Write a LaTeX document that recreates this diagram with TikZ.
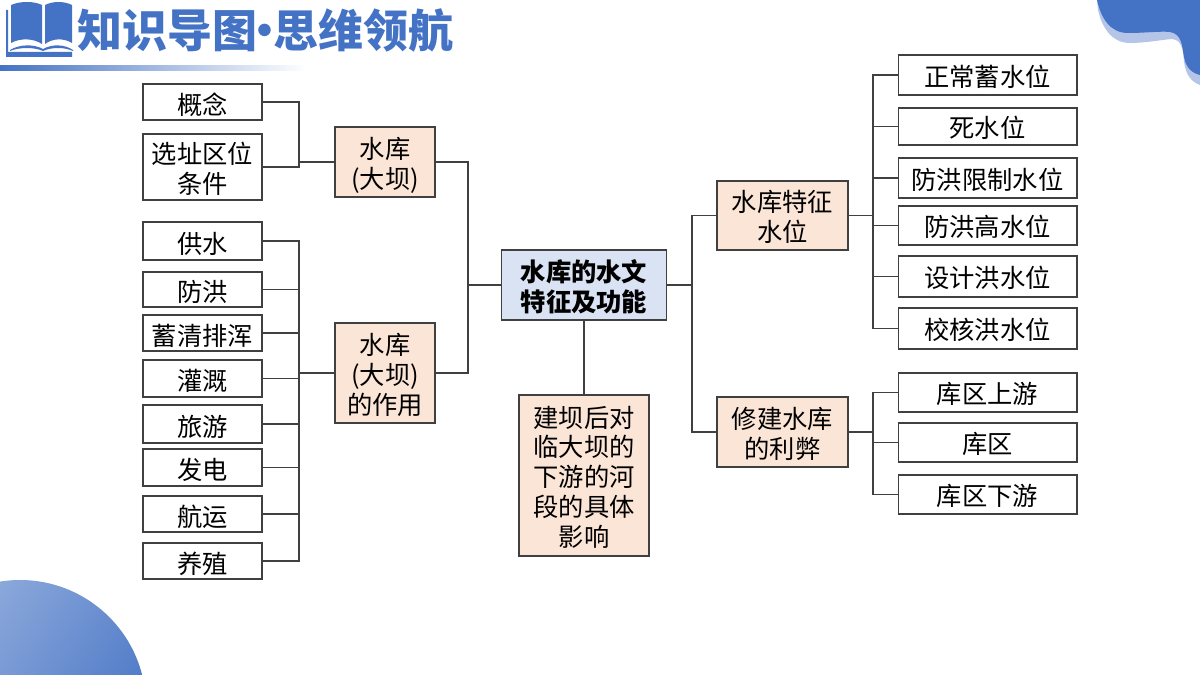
\documentclass[tikz,border=0pt]{standalone}
\usepackage{fontspec}
\usepackage{xcolor}
\setmainfont{Noto Sans CJK SC}
\usetikzlibrary{positioning}
\definecolor{mapblue}{RGB}{68,114,196}
\definecolor{maplight}{RGB}{180,197,231}
\definecolor{mappeach}{RGB}{251,229,214}
\definecolor{mapsky}{RGB}{218,227,243}
\definecolor{mapline}{RGB}{64,64,64}
\newcommand{\toppad}[1]{\rule{0pt}{#1}}
\tikzstyle{boxbase} = [rectangle, draw=mapline, fill=white, line width=0.6pt, inner sep=0pt, text=black, font=\fontsize{14.4pt}{17pt}\selectfont, align=center]
\tikzstyle{leaf} = [boxbase, minimum width=2.38cm, execute at begin node={\toppad{15pt}}]
\tikzstyle{rightleaf} = [boxbase, minimum width=3.58cm, execute at begin node={\toppad{13.8pt}}]
\tikzstyle{branch} = [boxbase, fill=mappeach]
\tikzstyle{root} = [boxbase, fill=mapsky, minimum width=3.3cm, minimum height=1.4cm, font=\fontsize{14.4pt}{17pt}\selectfont\bfseries]
\tikzstyle{conn} = [draw=mapline, line width=0.6pt]
\begin{document}
\begin{tikzpicture}[x=0.02cm,y=-0.02cm]
\useasboundingbox (0,0) rectangle (1200,675);

% Corner shapes
\begin{scope}
\clip (0,0) rectangle (1200,675);
\shade[left color=mapblue!55, right color=mapblue, shading angle=55] (20,706) circle (126);
\fill[maplight] (1097,0) -- (1098,10) .. controls (1102,28) and (1112,43) .. (1130,43)
  .. controls (1145,43) and (1160,40) .. (1172,39) .. controls (1182,40) and (1183,50) .. (1184,62)
  .. controls (1186,76) and (1192,82) .. (1200,85) -- (1200,0) -- cycle;
\fill[mapblue] (1097,0) .. controls (1101,18) and (1110,33) .. (1128,33)
  .. controls (1145,33) and (1160,31) .. (1170,32) .. controls (1182,34) and (1182,46) .. (1184,57)
  .. controls (1186,68) and (1192,73) .. (1200,75) -- (1200,0) -- cycle;
\end{scope}

% Book and title
\fill[mapblue] (11,5) .. controls (20,1) and (34,1) .. (42,5) -- (42,44) .. controls (33,38) and (20,38) .. (11,43) -- cycle;
\fill[mapblue] (45,5) .. controls (53,1) and (64,1) .. (72,5) -- (72,43) .. controls (64,38) and (53,38) .. (45,44) -- cycle;
\fill[mapblue] (10,50) .. controls (20,44) and (34,44) .. (43,49) .. controls (52,44) and (64,44) .. (73,50) -- (73,51) .. controls (64,47) and (52,47) .. (43,51) .. controls (34,47) and (20,47) .. (10,51) -- cycle;
\fill[mapblue] (6,10) -- (8,10) -- (8,52) -- (72,52) -- (72,57) -- (6,57) -- cycle;
\node (title) [anchor=west, text=mapblue, inner sep=0pt, font=\fontsize{25.6pt}{30pt}\selectfont\bfseries] at (77,30) {知识导图\kern-8.2pt·\kern-8.2pt思维领航};
\shade[left color=mapblue, right color=white] (0,66) rectangle (307,71);

% Root and branches
\node (root) [root] at (584,285) {\toppad{14pt}水库的水文\\特征及功能};
\node (dam) [branch, minimum width=2cm, minimum height=1.4cm] at (385,162) {\toppad{16.2pt}水库\\(大坝)};
\node (damuse) [branch, minimum width=2cm, minimum height=2cm] at (385,373) {\toppad{14pt}水库\\(大坝)\\的作用};
\node (effect) [branch, minimum width=2.6cm, minimum height=3.22cm] at (584,475.5) {\toppad{14pt}建坝后对\\临大坝的\\下游的河\\段的具体\\影响};
\node (level) [branch, minimum width=2.62cm, minimum height=1.38cm] at (782.5,215.5) {\toppad{14pt}水库特征\\水位};
\node (probs) [branch, minimum width=2.62cm, minimum height=1.4cm] at (782.5,432) {\toppad{14.6pt}修建水库\\的利弊};

% Left leaves
\node (concept) [leaf, minimum height=0.72cm] at (202.5,102) {概念};
\node (site) [leaf, minimum height=1.32cm] at (202.5,167) {\toppad{14.6pt}选址区位\\条件};
\node (supply) [leaf, minimum height=0.76cm] at (202.5,241) {供水};
\node (flood) [leaf, minimum height=0.7cm] at (202.5,289.5) {防洪};
\node (sluice) [leaf, minimum height=0.72cm] at (202.5,333) {蓄清排浑};
\node (irrig) [leaf, minimum height=0.74cm] at (202.5,378.5) {灌溉};
\node (tour) [leaf, minimum height=0.76cm] at (202.5,424) {旅游};
\node (power) [leaf, minimum height=0.74cm] at (202.5,467.5) {发电};
\node (ship) [leaf, minimum height=0.72cm] at (202.5,514) {航运};
\node (fish) [leaf, minimum height=0.72cm] at (202.5,561) {养殖};

% Right leaves
\node (normal) [rightleaf, minimum height=0.8cm] at (987.5,75) {正常蓄水位};
\node (dead) [rightleaf, minimum height=0.74cm] at (987.5,126.5) {死水位};
\node (limit) [rightleaf, minimum height=0.8cm] at (987.5,178) {防洪限制水位};
\node (high) [rightleaf, minimum height=0.78cm] at (987.5,225.5) {防洪高水位};
\node (design) [rightleaf, minimum height=0.82cm] at (987.5,276.5) {设计洪水位};
\node (check) [rightleaf, minimum height=0.82cm] at (987.5,328.5) {校核洪水位};
\node (upper) [rightleaf, minimum height=0.78cm] at (987.5,392.5) {库区上游};
\node (area) [rightleaf, minimum height=0.78cm] at (987.5,442.5) {库区};
\node (lower) [rightleaf, minimum height=0.78cm] at (987.5,494.5) {库区下游};

% Bus lines
\coordinate (rootbusl) at (468,285);
\coordinate (rootbusr) at (692,285);
\coordinate (dambus) at (299,162);
\coordinate (usebus) at (299,373);
\coordinate (levelbus) at (873,215.5);
\coordinate (probsbus) at (873,432);

% Connectors
\draw[conn] (dam.east) -| (rootbusl);
\draw[conn] (damuse.east) -| (rootbusl);
\draw[conn] (root.west) -- (rootbusl);
\draw[conn] (root.east) -- (rootbusr);
\draw[conn] (root.south) -- (effect.north);
\draw[conn] (level.west) -| (rootbusr);
\draw[conn] (probs.west) -| (rootbusr);
\draw[conn] (dam.west) -- (dambus);
\draw[conn] (damuse.west) -- (usebus);
\draw[conn] (level.east) -- (levelbus);
\draw[conn] (probs.east) -- (probsbus);
\draw[conn] (concept.east) -| (dambus);
\draw[conn] (site.east) -| (dambus);
\foreach \leafname in {supply,flood,sluice,irrig,tour,power,ship,fish}
  \draw[conn] (\leafname.east) -| (usebus);
\foreach \leafname in {normal,dead,limit,high,design,check}
  \draw[conn] (\leafname.west) -| (levelbus);
\foreach \leafname in {upper,area,lower}
  \draw[conn] (\leafname.west) -| (probsbus);
\end{tikzpicture}
\end{document}
